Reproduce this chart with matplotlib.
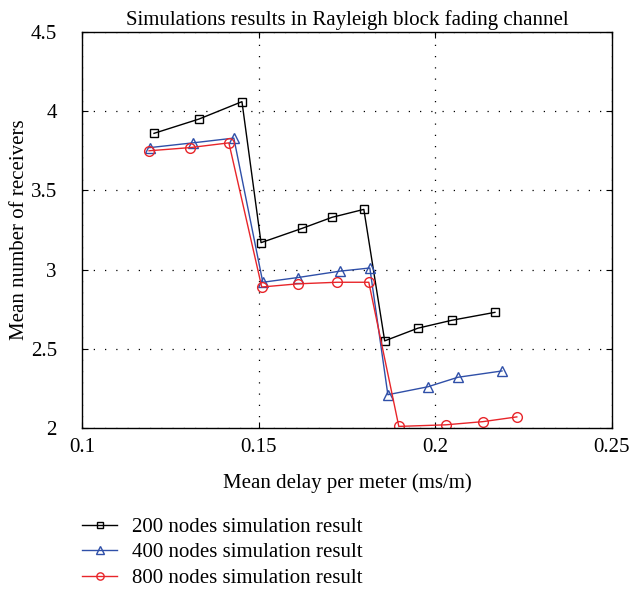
import matplotlib
matplotlib.use("Agg")
import matplotlib.pyplot as plt

plt.rcParams['font.family'] = ['Liberation Serif', 'DejaVu Serif']

x200 = [0.1204, 0.1331, 0.1453, 0.1507, 0.1623, 0.1708, 0.1798, 0.1857, 0.1951, 0.2047, 0.2169]
y200 = [3.86, 3.95, 4.06, 3.17, 3.26, 3.33, 3.38, 2.55, 2.63, 2.68, 2.73]
x400 = [0.1192, 0.1314, 0.1430, 0.1512, 0.1612, 0.1730, 0.1815, 0.1866, 0.1979, 0.2064, 0.2189]
y400 = [3.77, 3.80, 3.83, 2.92, 2.95, 2.99, 3.01, 2.21, 2.26, 2.32, 2.36]
x800 = [0.1190, 0.1306, 0.1416, 0.1509, 0.1611, 0.1722, 0.1812, 0.1897, 0.2030, 0.2135, 0.2231]
y800 = [3.75, 3.77, 3.80, 2.89, 2.91, 2.92, 2.92, 2.01, 2.02, 2.04, 2.07]
labels = ["200 nodes simulation result", "400 nodes simulation result", "800 nodes simulation result"]
xticks = [0.1, 0.15, 0.2, 0.25]
yticks = [2, 2.5, 3, 3.5, 4, 4.5]

fig = plt.figure(figsize=(6.4, 5.9), dpi=100)
ax = fig.add_axes([0.128, 0.2746, 0.828, 0.6712])

ax.plot(x200, y200, color='black', marker='s', mfc='none', ms=5.5, lw=1, label=labels[0])
ax.plot(x400, y400, color='#2f4fa8', marker='^', mfc='none', ms=7, lw=1, label=labels[1])
ax.plot(x800, y800, color='#e8252a', marker='o', mfc='none', ms=7, lw=1, label=labels[2])

ax.set_xlim(0.1, 0.25)
ax.set_ylim(2, 4.5)
ax.set_xticks(xticks)
ax.set_xticklabels(['0.1', '0.15', '0.2', '0.25'])
ax.set_yticks(yticks)
ax.set_yticklabels(['2', '2.5', '3', '3.5', '4', '4.5'])
ax.tick_params(direction='in', top=True, right=True, labelsize=15, length=4)
ax.tick_params(axis='y', pad=18)
ax.tick_params(axis='x', pad=7)
ax.grid(True, color='black', linestyle=(0, (1, 8)), linewidth=0.9)
for s in ax.spines.values():
    s.set_linewidth(1)

ax.set_title("Simulations results in Rayleigh block fading channel", fontsize=15, pad=5)
ax.set_xlabel("Mean delay per meter (ms/m)", fontsize=15, labelpad=12)
ax.set_ylabel("Mean number of receivers", fontsize=15, labelpad=1)

fig.legend(loc='upper left', bbox_to_anchor=(0.128, 0.123), frameon=False,
           fontsize=15, handlelength=1.7, handletextpad=0.7, labelspacing=0.28,
           borderaxespad=0, borderpad=0, markerscale=0.75)

fig.savefig("out.png", dpi=100)
